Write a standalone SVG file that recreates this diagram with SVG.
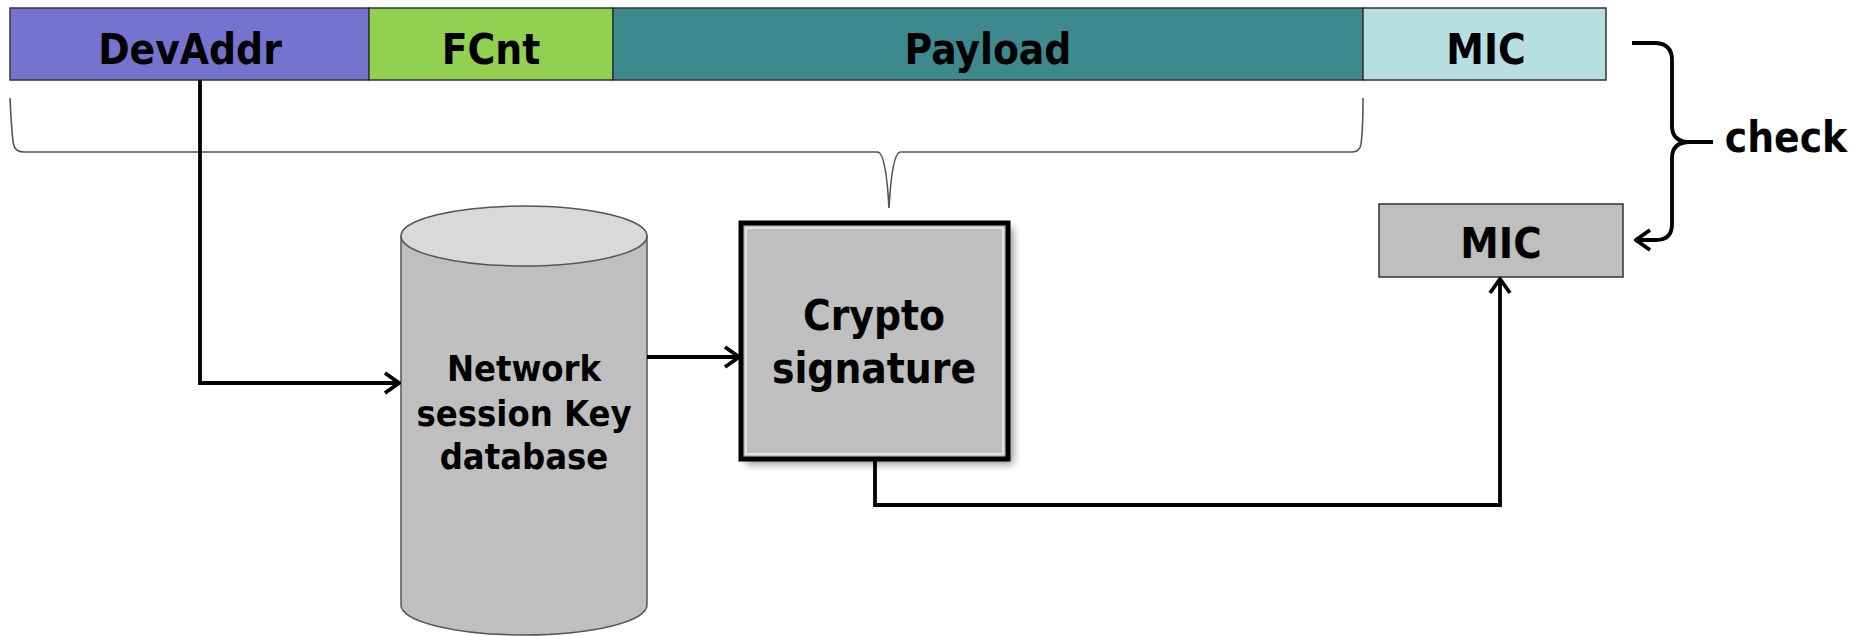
<svg xmlns="http://www.w3.org/2000/svg" width="1856" height="636" viewBox="0 0 1856 636">
<style>
.t{font-family:"DejaVu Sans Condensed","DejaVu Sans",sans-serif;font-stretch:condensed;font-weight:bold;fill:#000;text-anchor:middle}
.bar{stroke:#333;stroke-width:1.5}
.conn{fill:none;stroke:#000;stroke-width:3.8;stroke-linejoin:miter}
.brk{fill:none;stroke:#555;stroke-width:1.6}
</style>
<defs>
<marker id="arr" viewBox="0 0 20 24" refX="18" refY="12" markerWidth="20" markerHeight="24" markerUnits="userSpaceOnUse" orient="auto">
<path d="M4,2 L18,12 L4,22" fill="none" stroke="#000" stroke-width="3.8"/>
</marker>
<filter id="sh" x="-10%" y="-10%" width="130%" height="130%">
<feGaussianBlur stdDeviation="4"/>
</filter>
</defs>
<g id="frame">
<g id="devaddr"><rect class="bar" x="10" y="8" width="359" height="72" fill="#7474d0"/><text class="t" x="190" y="64" font-size="42">DevAddr</text></g>
<g id="fcnt"><rect class="bar" x="369" y="8" width="244" height="72" fill="#92d050"/><text class="t" x="491" y="64" font-size="42">FCnt</text></g>
<g id="payload"><rect class="bar" x="613" y="8" width="750" height="72" fill="#3c898e"/><text class="t" x="988" y="64" font-size="42">Payload</text></g>
<g id="mic-top"><rect class="bar" x="1363" y="8" width="243" height="72" fill="#b7dfe1"/><text class="t" x="1486" y="64" font-size="42">MIC</text></g>
</g>
<g id="bracket">
<path class="brk" d="M10,98 Q12,140 14,146 Q16,152 24,152 L878,152 Q886,154 889,208 Q892,154 900,152 L1352,152 Q1360,152 1361,144 Q1363,130 1363,98"/>
</g>
<g id="database">
<path d="M401,236 L401,605 A123,30 0 0 0 647,605 L647,236 Z" fill="#bfbfbf" stroke="#555" stroke-width="1.5"/>
<ellipse cx="524" cy="236" rx="123" ry="30" fill="#d9d9d9" stroke="#555" stroke-width="1.5"/>
<text class="t" x="524" y="381" font-size="36">Network</text>
<text class="t" x="524" y="426" font-size="36">session Key</text>
<text class="t" x="524" y="469" font-size="36">database</text>
</g>
<g id="crypto">
<rect x="746" y="228" width="267" height="236" fill="#000" opacity="0.45" filter="url(#sh)"/>
<rect x="741" y="223" width="267" height="236" fill="#bfbfbf" stroke="#000" stroke-width="5"/>
<rect x="746" y="228" width="257" height="226" fill="none" stroke="#eee" stroke-width="1.5"/>
<text class="t" x="874" y="330" font-size="42">Crypto</text>
<text class="t" x="874" y="383" font-size="42">signature</text>
</g>
<g id="mic-calc"><rect x="1379" y="204" width="244" height="73" fill="#bfbfbf" stroke="#333" stroke-width="1.5"/><text class="t" x="1501" y="258" font-size="43">MIC</text></g>
<g id="check">
<path class="conn" d="M1632,43 L1656,43 Q1672,44 1672,60 L1672,126 Q1672,142 1690,142 L1713,142 M1690,142 Q1672,142 1672,158 L1672,224 Q1672,240 1656,240 L1636,240" marker-end="url(#arr)"/>
<text class="t" x="1786" y="152" font-size="42">check</text>
</g>
<g id="connectors">
<path class="conn" d="M200,80 L200,383 L399,383" marker-end="url(#arr)"/>
<path class="conn" d="M647,357 L739,357" marker-end="url(#arr)"/>
<path class="conn" d="M875,461 L875,505 L1500,505 L1500,279" marker-end="url(#arr)"/>
</g>
</svg>
